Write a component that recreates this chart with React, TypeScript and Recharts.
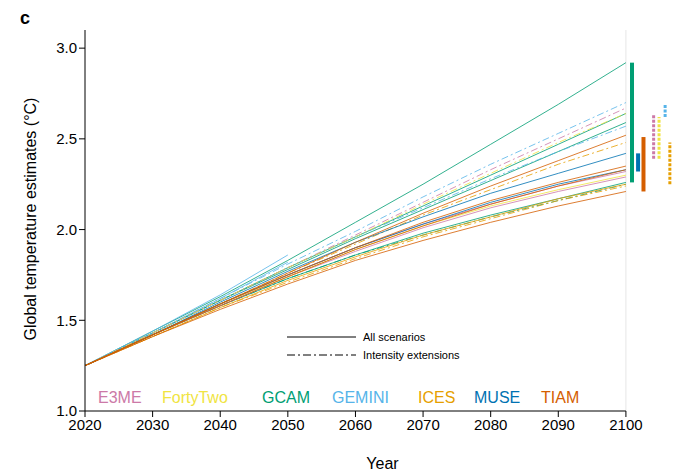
import React from 'react';
import { LineChart, Line, XAxis, YAxis, ReferenceLine } from 'recharts';

const years = [2020, 2030, 2040, 2050, 2060, 2070, 2080, 2090, 2100];
const xTicks = [2020, 2030, 2040, 2050, 2060, 2070, 2080, 2090, 2100];
const yTicks = [1.0, 1.5, 2.0, 2.5, 3.0];

const colors: Record<string, string> = {
  E3ME: '#cc79a7', FortyTwo: '#f0e442', GCAM: '#009e73', GEMINI: '#56b4e9',
  ICES: '#e69f00', MUSE: '#0072b2', TIAM: '#d55e00',
};

type S = { id: string; model: string; dashed: boolean; values: (number | null)[] };
const series: S[] = [
  { id: 'gcam1', model: 'GCAM', dashed: false, values: [1.25, 1.44, 1.63, 1.83, 2.04, 2.25, 2.47, 2.69, 2.92] },
  { id: 'gcam2', model: 'GCAM', dashed: false, values: [1.25, 1.43, 1.61, 1.79, 1.96, 2.13, 2.30, 2.47, 2.64] },
  { id: 'gcam3', model: 'GCAM', dashed: false, values: [1.25, 1.43, 1.61, 1.78, 1.95, 2.11, 2.27, 2.43, 2.59] },
  { id: 'gcam4', model: 'GCAM', dashed: false, values: [1.25, 1.42, 1.58, 1.73, 1.86, 1.98, 2.08, 2.17, 2.26] },
  { id: 'gcam5', model: 'GCAM', dashed: true, values: [1.25, 1.42, 1.58, 1.73, 1.86, 1.97, 2.07, 2.16, 2.25] },
  { id: 'gem1', model: 'GEMINI', dashed: true, values: [1.25, 1.43, 1.62, 1.81, 1.99, 2.18, 2.36, 2.53, 2.70] },
  { id: 'gem2', model: 'GEMINI', dashed: true, values: [1.25, 1.43, 1.61, 1.79, 1.96, 2.12, 2.28, 2.43, 2.57] },
  { id: 'gem3', model: 'GEMINI', dashed: false, values: [1.25, 1.44, 1.64, 1.86, null, null, null, null, null] },
  { id: 'gem4', model: 'GEMINI', dashed: false, values: [1.25, 1.43, 1.62, 1.82, null, null, null, null, null] },
  { id: 'e3me1', model: 'E3ME', dashed: true, values: [1.25, 1.43, 1.61, 1.79, 1.97, 2.15, 2.33, 2.50, 2.67] },
  { id: 'e3me2', model: 'E3ME', dashed: false, values: [1.25, 1.42, 1.59, 1.75, 1.90, 2.03, 2.14, 2.24, 2.32] },
  { id: 'e3me3', model: 'E3ME', dashed: false, values: [1.25, 1.42, 1.58, 1.74, 1.88, 2.01, 2.12, 2.21, 2.29] },
  { id: 'ft1', model: 'FortyTwo', dashed: true, values: [1.25, 1.43, 1.61, 1.79, 1.96, 2.14, 2.31, 2.48, 2.64] },
  { id: 'ft2', model: 'FortyTwo', dashed: false, values: [1.25, 1.42, 1.59, 1.74, 1.89, 2.02, 2.13, 2.22, 2.30] },
  { id: 'ices1', model: 'ICES', dashed: true, values: [1.25, 1.42, 1.59, 1.76, 1.92, 2.08, 2.22, 2.36, 2.48] },
  { id: 'ices2', model: 'ICES', dashed: false, values: [1.25, 1.41, 1.57, 1.72, 1.85, 1.97, 2.07, 2.17, 2.25] },
  { id: 'ices3', model: 'ICES', dashed: true, values: [1.25, 1.41, 1.57, 1.71, 1.84, 1.96, 2.06, 2.16, 2.24] },
  { id: 'muse1', model: 'MUSE', dashed: false, values: [1.25, 1.42, 1.60, 1.77, 1.93, 2.07, 2.20, 2.31, 2.42] },
  { id: 'muse2', model: 'MUSE', dashed: false, values: [1.25, 1.42, 1.59, 1.75, 1.90, 2.03, 2.15, 2.25, 2.33] },
  { id: 'tiam1', model: 'TIAM', dashed: false, values: [1.25, 1.42, 1.59, 1.76, 1.93, 2.09, 2.24, 2.38, 2.52] },
  { id: 'tiam2', model: 'TIAM', dashed: false, values: [1.25, 1.42, 1.59, 1.75, 1.90, 2.04, 2.16, 2.26, 2.35] },
  { id: 'tiam3', model: 'TIAM', dashed: false, values: [1.25, 1.42, 1.58, 1.74, 1.89, 2.02, 2.14, 2.24, 2.33] },
  { id: 'tiam4', model: 'TIAM', dashed: false, values: [1.25, 1.41, 1.56, 1.70, 1.83, 1.94, 2.04, 2.13, 2.21] },
];

const rangeModels = ['GCAM', 'MUSE', 'TIAM', 'E3ME', 'FortyTwo', 'GEMINI', 'ICES'];
const rangeX = [2100.9, 2101.8, 2102.6, 2104.1, 2104.9, 2105.8, 2106.5];
const rangeLow = [2.26, 2.32, 2.21, 2.39, 2.39, 2.62, 2.25];
const rangeHigh = [2.92, 2.42, 2.51, 2.63, 2.62, 2.69, 2.48];
const rangeDashed = [false, false, false, true, true, true, true];

const legendNames = ['E3ME', 'FortyTwo', 'GCAM', 'GEMINI', 'ICES', 'MUSE', 'TIAM'];
const legendLeft = [98, 162, 262, 332, 418, 474, 541];

const data = years.map((yr, i) => {
  const row: Record<string, number | null> = { year: yr };
  series.forEach((s) => { row[s.id] = s.values[i]; });
  return row;
});

const font = '"Liberation Sans", Arial, sans-serif';

export default function App() {
  return (
    <div style={{ position: 'absolute', left: 0, top: 0, width: 680, height: 473, fontFamily: font, background: '#fff' }}>
      <LineChart width={680} height={473} data={data} margin={{ top: 30, right: 0, left: 0, bottom: 0 }}>
        <XAxis dataKey="year" type="number" domain={[2020, 2108]} ticks={xTicks} axisLine={false}
          tick={{ fill: '#000', fontSize: 15, fontFamily: font }} tickLine={{ stroke: '#000' }} tickSize={6} height={62}
          label={{ value: 'Year', position: 'insideBottom', offset: 4, fill: '#000', fontSize: 16, fontFamily: font }} />
        <YAxis type="number" domain={[1, 3.1]} ticks={yTicks} tickFormatter={(v: number) => v.toFixed(1)}
          tick={{ fill: '#000', fontSize: 15, fontFamily: font }} axisLine={{ stroke: '#000' }} tickLine={{ stroke: '#000' }} tickSize={6} width={85}
          label={{ value: 'Global temperature estimates (°C)', angle: -90, position: 'insideLeft', offset: 30, dy: 120, fill: '#000', fontSize: 16, fontFamily: font }} />
        <ReferenceLine x={2100} stroke="#e6e6e6" />
        <ReferenceLine segment={[{ x: 2020, y: 1 }, { x: 2100, y: 1 }]} stroke="#000" />
        {series.map((s) => (
          <Line key={s.id} dataKey={s.id} stroke={colors[s.model]} strokeWidth={1} strokeOpacity={0.8}
            strokeDasharray={s.dashed ? '7 3 2 3' : undefined} dot={false} isAnimationActive={false} connectNulls={false} />
        ))}
        {rangeModels.map((m, i) => (
          <ReferenceLine key={m} segment={[{ x: rangeX[i], y: rangeLow[i] }, { x: rangeX[i], y: rangeHigh[i] }]}
            stroke={colors[m]} strokeWidth={rangeDashed[i] ? 3 : 4} strokeDasharray={rangeDashed[i] ? '3 1.5' : undefined} ifOverflow="visible" />
        ))}
      </LineChart>
      <div style={{ position: 'absolute', left: 20, top: 8, fontSize: 18, fontWeight: 'bold' }}>c</div>
      {legendNames.map((n, i) => (
        <div key={n} style={{ position: 'absolute', left: legendLeft[i], top: 389, fontSize: 16, color: colors[n] }}>{n}</div>
      ))}
      <svg style={{ position: 'absolute', left: 0, top: 0 }} width={680} height={473}>
        <line x1={287} y1={337} x2={356} y2={337} stroke="#000" strokeWidth={1} />
        <line x1={287} y1={355} x2={356} y2={355} stroke="#000" strokeWidth={1} strokeDasharray="8 3 2 3" />
        <text x={363} y={341} fontSize={11} fontFamily={font}>All scenarios</text>
        <text x={363} y={359} fontSize={11} fontFamily={font}>Intensity extensions</text>
      </svg>
    </div>
  );
}
